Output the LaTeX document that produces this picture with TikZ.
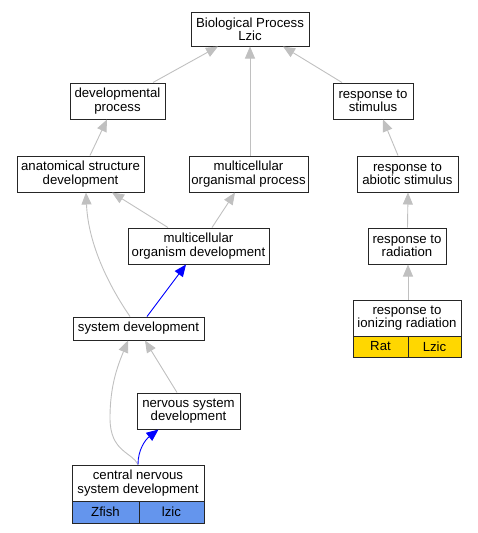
\documentclass[tikz,border=0pt]{standalone}
\usepackage{fontspec}
\setmainfont{Liberation Sans}
\usetikzlibrary{arrows.meta}
\definecolor{edgegray}{HTML}{C0C0C0}
\definecolor{gold}{HTML}{FFD700}
\definecolor{cblue}{HTML}{6495ED}
\tikzset{
  box/.style={draw=black!85, line width=1pt, fill=white, inner sep=0pt, align=center,
    font=\fontsize{13.2pt}{13.3pt}\selectfont},
  cell/.style={box, minimum height=21pt},
  edge/.style={draw=edgegray, line width=0.9pt, -{Triangle[length=12pt,width=10pt]}},
  bedge/.style={draw=blue, line width=0.9pt, -{Triangle[length=12pt,width=10pt]}},
}
\begin{document}
\begin{tikzpicture}[x=1pt,y=-1pt]
\useasboundingbox (0,0) rectangle (477,533);
% nodes
\node[box, minimum width=118pt, minimum height=34pt] (bp) at (250,29) {Biological Process\\Lzic};
\node[box, minimum width=95pt, minimum height=36pt] (dp) at (117.5,101) {developmental\\process};
\node[box, minimum width=80pt, minimum height=36pt] (rts) at (373,101) {response to\\stimulus};
\node[box, minimum width=127pt, minimum height=36pt] (asd) at (80.5,174) {anatomical structure\\development};
\node[box, minimum width=119pt, minimum height=36pt] (mop) at (248.5,174) {multicellular\\organismal process};
\node[box, minimum width=101pt, minimum height=36pt] (ras) at (407.5,174) {response to\\abiotic stimulus};
\node[box, minimum width=141pt, minimum height=36pt] (mod) at (198.5,246) {multicellular\\organism development};
\node[box, minimum width=78pt, minimum height=36pt] (rr) at (407,246) {response to\\radiation};
\node[box, minimum width=131pt, minimum height=23pt] (sd) at (138.5,328.5) {system development};
\node[box, minimum width=108pt, minimum height=36pt] (rir) at (407,318) {response to\\ionizing radiation};
\node[cell, fill=gold, minimum width=55pt] (rat) at (380.5,346.5) {Rat};
\node[cell, fill=gold, minimum width=53pt] (lzr) at (434.5,346.5) {Lzic};
\node[box, minimum width=103pt, minimum height=36pt] (nsd) at (188.5,411) {nervous system\\development};
\node[box, minimum width=132pt, minimum height=36pt] (cnsd) at (138,483) {central nervous\\system development};
\node[cell, fill=cblue, minimum width=67pt, minimum height=22pt] (zf) at (105.5,512) {Zfish};
\node[cell, fill=cblue, minimum width=65pt, minimum height=22pt] (lz) at (171.5,512) {lzic};
% edges
\draw[edge] ([xshift=35.5pt]dp.north) -- ([xshift=-32pt]bp.south);
\draw[edge] ([xshift=1.5pt]mop.north) -- ([xshift=0pt]bp.south);
\draw[edge] ([xshift=-31pt]rts.north) -- ([xshift=33pt]bp.south);
\draw[edge] ([xshift=9.5pt]asd.north) -- ([xshift=-10.5pt]dp.south);
\draw[edge] ([xshift=-9.5pt]ras.north) -- ([xshift=10pt]rts.south);
\draw[edge] ([xshift=-30.5pt]mod.north) -- ([xshift=31.5pt]asd.south);
\draw[edge] ([xshift=13.5pt]mod.north) -- ([xshift=-13.5pt]mop.south);
\draw[edge] ([xshift=0.5pt]rr.north) -- ([xshift=0.5pt]ras.south);
\draw[edge] ([xshift=1pt]rir.north) -- ([xshift=1pt]rr.south);
\draw[edge] ([xshift=-8.5pt]sd.north) .. controls (105,280) and (88,240) .. ([xshift=5.5pt]asd.south);
\draw[bedge] ([xshift=8.5pt]sd.north) -- ([xshift=-12.5pt]mod.south);
\draw[edge] ([xshift=-11.5pt]nsd.north) -- ([xshift=6.5pt]sd.south);
\draw[edge] (cnsd.north) .. controls (132,452) and (110,452) .. (110,418) .. controls (110,385) and (118,365) .. ([xshift=-10.5pt]sd.south);
\draw[bedge] (cnsd.north) .. controls (138,450) and (145,440) .. ([xshift=-30pt]nsd.south);
\end{tikzpicture}
\end{document}
